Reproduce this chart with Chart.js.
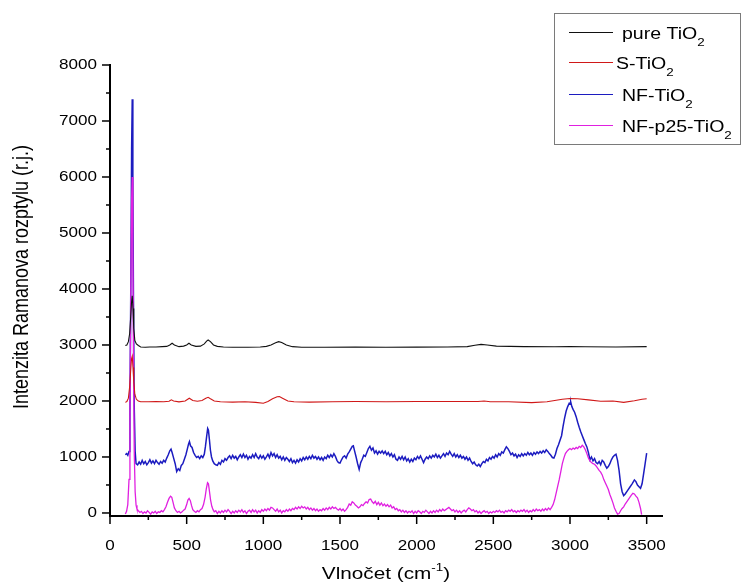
<!DOCTYPE html>
<html>
<head>
<meta charset="utf-8">
<script src="https://cdn.jsdelivr.net/npm/chart.js@4.4.1/dist/chart.umd.min.js"></script>
<style>
  html, body { margin: 0; padding: 0; background: #fff; }
</style>
</head>
<body>
<canvas id="ramanChart" width="741" height="585"></canvas>
<script>
// ── Data (wavenumber cm-1, intensity r.j.) ─────────────────────────────────────

const seriesNames = ["pure TiO₂", "S-TiO₂", "NF-TiO₂", "NF-p25-TiO₂"];
const xTicks = [0, 500, 1000, 1500, 2000, 2500, 3000, 3500];
const yTicks = [0, 1000, 2000, 3000, 4000, 5000, 6000, 7000, 8000];
const xTitleParts = ["Vlnočet (cm", "-1", ")"];
const yTitle = "Intenzita Ramanova rozptylu (r.j.)";

const pureSpectrum = [
    [100,2990],[110,3000],[120,3060],[128,3200],[135,3500],[140,3750],[145,3880],[150,3650],[155,3300],
    [162,3080],[172,3020],[185,2990],[200,2965],[230,2960],[260,2965],[300,2965],[340,2970],[370,2975],
    [390,3000],[405,3030],[420,3000],[450,2970],[480,2980],[500,3000],[515,3030],[530,3000],[560,2975],
    [590,2980],[615,3020],[630,3070],[640,3090],[655,3060],[675,3000],[700,2975],[740,2965],[800,2960],
    [900,2960],[980,2965],[1020,2975],[1050,3000],[1080,3040],[1100,3060],[1120,3045],[1150,3000],
    [1190,2970],[1250,2960],[1400,2960],[1600,2962],[1800,2960],[2000,2962],[2200,2965],[2330,2970],
    [2380,2995],[2420,3010],[2460,3000],[2520,2980],[2700,2970],[2900,2968],[3000,2972],[3100,2968],
    [3300,2965],[3500,2970]
];

const sSpectrum = [
    [100,1975],[110,1990],[120,2050],[128,2250],[135,2550],[140,2750],[145,2800],[150,2600],[155,2350],
    [162,2120],[172,2030],[185,2000],[200,1985],[250,1985],[300,1990],[350,1985],[385,1995],[400,2020],
    [415,2000],[450,1985],[490,2000],[517,2050],[540,2010],[570,1995],[600,2010],[625,2050],[640,2066],
    [655,2040],[680,2000],[720,1985],[800,1980],[880,1985],[950,1975],[1000,1960],[1030,1990],[1060,2040],
    [1090,2075],[1105,2080],[1125,2050],[1160,2000],[1200,1985],[1300,1980],[1450,1985],[1600,1990],
    [1800,1985],[2000,1990],[2200,1992],[2400,1990],[2440,2000],[2480,1985],[2600,1985],[2750,1970],
    [2850,1985],[2950,2030],[3000,2045],[3050,2040],[3120,2020],[3200,1995],[3280,2000],[3350,1975],
    [3420,2005],[3470,2030],[3500,2040]
];

const nfSpectrum = [
    [100,1040],[108,1060],[116,1030],[124,1100],[130,1800],[136,4200],[141,6500],[145,7390],[149,6000],
    [153,3800],[158,1900],[164,1100],[170,880],[180,860],[190,910],[200,870],[210,940],[220,880],[230,920],
    [240,860],[250,900],[260,950],[270,890],[280,930],[290,880],[300,940],[310,900],[320,870],[330,920],
    [340,890],[350,940],[360,910],[370,980],[380,1040],[390,1110],[398,1140],[405,1080],[415,980],[425,880],
    [435,740],[445,790],[455,760],[465,850],[475,880],[485,960],[495,1040],[505,1150],[512,1230],[518,1275],
    [525,1200],[535,1170],[545,1080],[555,1030],[565,990],[575,1010],[585,970],[595,1020],[605,990],
    [615,1050],[622,1180],[630,1360],[637,1510],[642,1480],[648,1320],[655,1120],[662,1000],[670,930],
    [680,880],[690,860],[700,850],[710,900],[720,870],[730,940],[740,910],[750,970],[760,940],[770,990],
    [780,1020],[790,970],[800,1030],[810,980],[820,1010],[830,950],[840,1000],[850,1040],[860,990],
    [870,1050],[880,990],[890,1030],[900,960],[910,1010],[920,980],[930,1040],[940,990],[950,1060],
    [960,1000],[970,970],[980,1030],[990,980],[1000,1020],[1010,960],[1020,1000],[1030,1050],[1040,990],
    [1050,1080],[1060,1020],[1070,1060],[1080,990],[1090,1040],[1100,980],[1110,1010],[1120,950],
    [1130,1000],[1140,940],[1150,990],[1160,960],[1170,920],[1180,970],[1190,900],[1200,940],[1210,890],
    [1220,950],[1230,910],[1240,970],[1250,930],[1260,990],[1270,950],[1280,1000],[1290,960],[1300,1010],
    [1310,970],[1320,1030],[1330,980],[1340,1010],[1350,960],[1360,1000],[1370,950],[1380,990],[1390,940],
    [1400,1000],[1410,970],[1420,1030],[1430,990],[1440,1040],[1450,1000],[1460,1060],[1470,1010],
    [1480,940],[1490,900],[1500,890],[1510,950],[1520,1000],[1530,1020],[1540,980],[1550,1050],[1560,1090],
    [1570,1140],[1580,1190],[1587,1200],[1595,1110],[1605,1000],[1615,880],[1625,780],[1635,900],
    [1645,960],[1655,1030],[1665,1010],[1675,1080],[1685,1150],[1695,1190],[1705,1120],[1715,1160],
    [1725,1070],[1735,1110],[1745,1050],[1755,1100],[1765,1070],[1775,1110],[1785,1060],[1795,1100],
    [1805,1040],[1815,1080],[1825,1020],[1835,1060],[1845,1000],[1855,1040],[1865,960],[1875,940],
    [1885,1000],[1895,960],[1905,1010],[1915,950],[1925,1000],[1935,930],[1945,970],[1955,910],[1965,960],
    [1975,920],[1985,980],[1995,950],[2005,1010],[2015,970],[2025,1020],[2035,960],[2045,900],[2055,960],
    [2065,1000],[2075,970],[2085,1020],[2095,980],[2105,1030],[2115,1000],[2125,1050],[2135,990],
    [2145,1030],[2155,980],[2165,1020],[2175,1060],[2185,1010],[2195,1070],[2205,1040],[2215,1100],
    [2225,1050],[2235,1010],[2245,1060],[2255,1000],[2265,1040],[2275,990],[2285,1030],[2295,980],
    [2305,1010],[2315,960],[2325,1000],[2335,940],[2345,980],[2355,920],[2365,880],[2375,910],[2385,860],
    [2395,840],[2405,870],[2415,830],[2425,880],[2435,920],[2445,900],[2455,960],[2465,930],[2475,990],
    [2485,960],[2495,1010],[2505,980],[2515,1040],[2525,1000],[2535,1060],[2545,1030],[2555,1090],
    [2565,1070],[2575,1130],[2585,1180],[2595,1150],[2605,1100],[2615,1040],[2625,1070],[2635,1020],
    [2645,1050],[2655,990],[2665,1040],[2675,1010],[2685,1060],[2695,1020],[2705,1060],[2715,1030],
    [2725,1080],[2735,1040],[2745,1070],[2755,1030],[2765,1080],[2775,1050],[2785,1090],[2795,1060],
    [2805,1100],[2815,1070],[2825,1110],[2835,1080],[2845,1130],[2855,1100],[2865,1060],[2875,1030],
    [2885,990],[2895,980],[2905,1050],[2915,1150],[2925,1220],[2935,1300],[2945,1380],[2955,1550],
    [2965,1700],[2975,1820],[2985,1900],[2995,1960],[3000,1940],[3005,1980],[3012,1900],[3020,1850],
    [3030,1800],[3040,1720],[3050,1620],[3060,1530],[3070,1450],[3080,1380],[3090,1310],[3100,1240],
    [3110,1180],[3120,1080],[3130,950],[3140,1000],[3150,930],[3160,970],[3170,900],[3180,880],[3190,920],
    [3200,860],[3210,940],[3220,910],[3230,850],[3240,800],[3250,830],[3260,880],[3270,950],[3280,1000],
    [3290,1030],[3300,1050],[3310,940],[3320,760],[3330,520],[3340,380],[3350,310],[3360,340],[3375,400],
    [3390,460],[3405,520],[3420,590],[3430,560],[3440,500],[3450,470],[3460,440],[3470,520],[3480,700],
    [3490,880],[3500,1070]
];

const p25Spectrum = [
    [100,-20],[108,30],[116,150],[124,600],[130,1800],[136,4000],[141,5600],[145,6000],[149,4800],
    [153,2800],[158,1100],[164,380],[170,140],[176,70],[185,40],[195,10],[205,30],[215,-10],[225,20],
    [235,0],[245,40],[255,10],[265,-20],[275,20],[285,0],[295,30],[305,-10],[315,20],[325,10],[335,40],
    [345,20],[355,60],[365,110],[375,190],[385,260],[395,300],[403,280],[412,180],[420,90],[430,40],
    [440,10],[450,30],[460,0],[470,20],[480,50],[490,70],[500,150],[508,230],[516,260],[524,220],[532,130],
    [540,60],[550,30],[560,10],[570,40],[580,20],[590,60],[600,80],[610,150],[620,280],[628,430],[636,540],
    [642,520],[648,400],[656,230],[664,120],[672,60],[680,20],[690,40],[700,-10],[710,30],[720,0],[730,40],
    [740,10],[750,50],[760,20],[770,60],[780,30],[790,-10],[800,30],[810,0],[820,40],[830,10],[840,50],
    [850,20],[860,60],[870,10],[880,40],[890,-10],[900,30],[910,50],[920,10],[930,60],[940,20],[950,50],
    [960,0],[970,40],[980,10],[990,60],[1000,30],[1010,70],[1020,40],[1030,80],[1040,50],[1050,100],
    [1060,90],[1070,60],[1080,30],[1090,70],[1100,20],[1110,50],[1120,0],[1130,40],[1140,20],[1150,60],
    [1160,30],[1170,70],[1180,40],[1190,80],[1200,60],[1210,100],[1220,70],[1230,110],[1240,80],[1250,120],
    [1260,90],[1270,110],[1280,70],[1290,100],[1300,60],[1310,90],[1320,50],[1330,80],[1340,40],[1350,70],
    [1360,30],[1370,60],[1380,40],[1390,80],[1400,50],[1410,90],[1420,60],[1430,100],[1440,70],[1450,110],
    [1460,80],[1470,100],[1480,70],[1490,50],[1500,80],[1510,40],[1520,70],[1530,30],[1540,60],[1550,100],
    [1560,160],[1570,140],[1580,200],[1590,180],[1600,140],[1610,120],[1620,90],[1630,110],[1640,150],
    [1650,130],[1660,170],[1670,200],[1680,180],[1690,240],[1700,250],[1710,200],[1720,170],[1730,210],
    [1740,150],[1750,190],[1760,140],[1770,180],[1780,130],[1790,160],[1800,120],[1810,150],[1820,110],
    [1830,140],[1840,90],[1850,110],[1860,60],[1870,80],[1880,40],[1890,60],[1900,20],[1910,50],[1920,10],
    [1930,40],[1940,0],[1950,30],[1960,10],[1970,40],[1980,-10],[1990,30],[2000,0],[2010,40],[2020,20],
    [2030,-10],[2040,30],[2050,10],[2060,50],[2070,20],[2080,-10],[2090,30],[2100,0],[2110,40],[2120,10],
    [2130,50],[2140,20],[2150,60],[2160,30],[2170,70],[2180,40],[2190,60],[2200,80],[2210,100],[2220,70],
    [2230,40],[2240,60],[2250,20],[2260,50],[2270,10],[2280,40],[2290,0],[2300,30],[2310,50],[2320,20],
    [2330,60],[2340,90],[2350,70],[2360,40],[2370,60],[2380,20],[2390,40],[2400,0],[2410,30],[2420,-10],
    [2430,20],[2440,40],[2450,10],[2460,30],[2470,-10],[2480,20],[2490,0],[2500,30],[2510,10],[2520,40],
    [2530,20],[2540,50],[2550,10],[2560,30],[2570,0],[2580,40],[2590,20],[2600,50],[2610,30],[2620,60],
    [2630,20],[2640,40],[2650,10],[2660,40],[2670,20],[2680,50],[2690,30],[2700,60],[2710,20],[2720,50],
    [2730,10],[2740,40],[2750,20],[2760,60],[2770,30],[2780,70],[2790,40],[2800,60],[2810,30],[2820,70],
    [2830,40],[2840,80],[2850,50],[2860,90],[2870,60],[2880,100],[2890,150],[2900,240],[2910,360],
    [2920,480],[2930,600],[2940,740],[2950,880],[2960,980],[2970,1060],[2980,1100],[2990,1130],[3000,1150],
    [3010,1130],[3020,1160],[3030,1140],[3040,1170],[3050,1150],[3060,1190],[3070,1170],[3080,1210],
    [3090,1180],[3100,1130],[3110,1060],[3120,980],[3130,930],[3140,900],[3150,880],[3160,870],[3170,840],
    [3180,800],[3190,760],[3200,730],[3210,680],[3220,600],[3230,540],[3240,480],[3250,420],[3260,330],
    [3270,260],[3280,180],[3290,90],[3300,30],[3310,-20],[3320,-10],[3330,40],[3340,80],[3350,110],
    [3360,160],[3370,200],[3380,240],[3390,280],[3400,320],[3410,350],[3420,340],[3430,300],[3440,270],
    [3450,190],[3460,80],[3467,-30]
];

// ── Helpers ────────────────────────────────────────────────────────────────────

const FONT    = '"Liberation Sans", Arial, sans-serif';
const STRETCH = 1.22;   // the original text is a bit wider than Arial

const toPoints = arr => arr.map(([x, y]) => ({ x, y }));

function stretchText(ctx, text, x, y, size, align, baseline) {
    ctx.save();
    ctx.translate(x, y);
    ctx.scale(STRETCH, 1);
    ctx.font         = `${size}px ${FONT}`;
    ctx.textAlign    = align;
    ctx.textBaseline = baseline;
    ctx.fillText(text, 0, 0);
    ctx.restore();
}

// parts: [text, fontSize, dy]
function richText(ctx, parts, x, y, align) {
    ctx.save();
    ctx.translate(x, y);
    ctx.scale(STRETCH, 1);
    ctx.textAlign    = "left";
    ctx.textBaseline = "alphabetic";
    const widths = parts.map(([t, s]) => { ctx.font = `${s}px ${FONT}`; return ctx.measureText(t).width; });
    let cx = align === "center" ? -widths.reduce((a, b) => a + b, 0) / 2 : 0;
    parts.forEach(([t, s, dy], i) => {
        ctx.font = `${s}px ${FONT}`;
        ctx.fillText(t, cx, dy);
        cx += widths[i];
    });
    ctx.restore();
}

function tick(ctx, x1, y1, x2, y2) {
    ctx.beginPath();
    ctx.moveTo(x1, y1);
    ctx.lineTo(x2, y2);
    ctx.stroke();
}

// ── Axes, titles and legend drawn by hand (sub/superscripts, outward ticks) ───

const decor = {
    id: "decor",
    afterDraw(chart) {
        const { ctx, chartArea: area, scales: { x, y } } = chart;
        ctx.save();
        ctx.strokeStyle = "#000";
        ctx.fillStyle   = "#000";
        ctx.lineWidth   = 1.5;

        xTicks.forEach((v, i) => {
            const px = x.getPixelForValue(v);
            tick(ctx, px, area.bottom, px, area.bottom + 8);
            stretchText(ctx, String(v), px, area.bottom + 30, 14, "center", "middle");
            if (i < xTicks.length - 1) {
                const m = x.getPixelForValue((v + xTicks[i + 1]) / 2);
                tick(ctx, m, area.bottom, m, area.bottom + 4);
            }
        });

        yTicks.forEach((v, i) => {
            const py = y.getPixelForValue(v);
            tick(ctx, area.left, py, area.left - 8, py);
            stretchText(ctx, String(v), area.left - 13, py, 14, "right", "middle");
            if (i < yTicks.length - 1) {
                const m = y.getPixelForValue((v + yTicks[i + 1]) / 2);
                tick(ctx, area.left, m, area.left - 4, m);
            }
        });

        // axis titles
        richText(ctx, [[xTitleParts[0], 17, 0], [xTitleParts[1], 11, -8], [xTitleParts[2], 17, 0]],
                 (area.left + area.right) / 2, 579, "center");

        ctx.save();
        ctx.translate(22, 277);
        ctx.rotate(-Math.PI / 2);
        ctx.scale(1, STRETCH);
        ctx.font         = `18px ${FONT}`;
        ctx.textAlign    = "center";
        ctx.textBaseline = "middle";
        ctx.fillText(yTitle, 0, 0);
        ctx.restore();

        // legend
        ctx.strokeStyle = "#7a7a7a";
        ctx.lineWidth   = 1;
        ctx.strokeRect(554.5, 13.5, 186, 131);

        const rowY  = [32, 62, 94, 125];
        const textX = [622, 616, 622, 622];
        chart.data.datasets.forEach((ds, i) => {
            ctx.strokeStyle = ds.borderColor;
            ctx.lineWidth   = 1;
            tick(ctx, 569, rowY[i] + 0.5, 613, rowY[i] + 0.5);
            const base = ds.label.replace("₂", "");
            richText(ctx, [[base, 16, 0], ["2", 11, 7]], textX[i], rowY[i] + 7, "left");
        });
        ctx.restore();
    }
};

// ── Chart ──────────────────────────────────────────────────────────────────────

const colors    = ["#111111", "#d01818", "#1c1cc0", "#e020e0"];
const widths    = [1.1, 1.1, 1.5, 1.3];
const spectra   = [pureSpectrum, sSpectrum, nfSpectrum, p25Spectrum];
const drawOrder = [0, 1, 3, 2];

new Chart(document.getElementById("ramanChart"), {
    type: "line",
    data: {
        datasets: spectra.map((s, i) => ({
            label: seriesNames[i],
            data: toPoints(s),
            borderColor: colors[i],
            borderWidth: widths[i],
            pointRadius: 0,
            tension: 0,
            fill: false,
            order: drawOrder[i]
        }))
    },
    options: {
        responsive: false,
        animation: false,
        devicePixelRatio: 1,
        layout: { padding: { left: 0, top: 65, right: 79, bottom: 0 } },
        plugins: {
            legend:  { display: false },
            tooltip: { enabled: false }
        },
        scales: {
            x: {
                type: "linear",
                min: 0,
                max: 3600,
                grid:   { display: false },
                ticks:  { display: false },
                border: { display: true, color: "#000", width: 2 },
                afterFit: s => { s.height = 69; }
            },
            y: {
                type: "linear",
                min: -54,
                max: 8000,
                grid:   { display: false },
                ticks:  { display: false },
                border: { display: true, color: "#000", width: 2 },
                afterFit: s => { s.width = 110; }
            }
        }
    },
    plugins: [decor]
});
</script>
</body>
</html>
